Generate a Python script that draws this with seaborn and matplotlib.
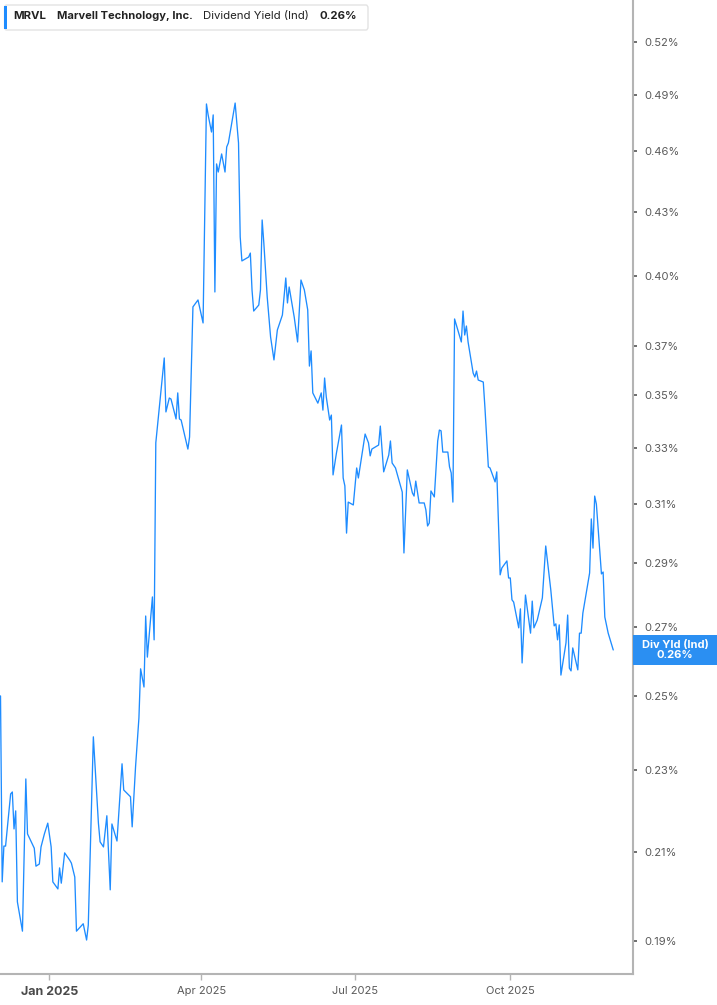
import numpy as np
import pandas as pd
import matplotlib
matplotlib.use("Agg")
import matplotlib.pyplot as plt
import seaborn as sns
from matplotlib.ticker import FixedLocator, NullLocator, FuncFormatter
from matplotlib.patches import Rectangle, FancyBboxPatch
from matplotlib.transforms import IdentityTransform

# ---------------- data ----------------
ticker = "MRVL"
company = "Marvell Technology, Inc."
metric = "Dividend Yield (Ind)"
badge_title = "Div Yld (Ind)"

base_date = "2025-01-01"
# days relative to base_date
days = [
    -29, -28, -27, -26, -23, -22, -21, -20, -19, -16, -14, -13, -9, -8, -6, -5, -3, -1,
    1, 2, 5, 6, 7, 9, 12, 13, 15, 16, 20, 22, 23, 26, 29, 30, 32, 34, 36, 37, 40, 43,
    44, 48, 49, 51, 53, 54, 56, 57, 58, 61, 62, 63, 68, 69, 71, 72, 75, 76, 77, 78,
    82, 83, 85, 88, 90, 91, 93, 94, 96, 97, 98, 99, 100, 102, 104, 105, 106, 110, 112, 113,
    114, 118, 119, 120, 121, 124, 125, 126, 127, 129, 131, 133, 135, 138, 140, 141, 142, 145, 147, 149,
    151, 152, 153, 154, 155, 156, 159, 161, 162, 163, 164, 166, 167, 168, 170, 173, 174, 175, 176, 177,
    180, 182, 183, 187, 189, 190, 191, 195, 196, 198, 201, 202, 203, 205, 209, 210, 212, 215, 216, 217,
    219, 222, 223, 224, 225, 226, 228, 230, 231, 232, 233, 236, 237, 238, 239, 240, 244, 245, 246, 247,
    248, 251, 252, 253, 254, 257, 258, 260, 261, 264, 265, 267, 268, 271, 272, 273, 274, 275, 278, 279,
    280, 282, 285, 286, 287, 289, 292, 294, 297, 299, 300, 301, 302, 303, 306, 307, 308, 309, 310, 313,
    314, 315, 316, 320, 321, 322, 323, 324, 327, 328, 329, 331, 334,
]
# dividend yield in percent
yields = [
    0.2500, 0.2030, 0.2113, 0.2113, 0.2240, 0.2245, 0.2154, 0.2198, 0.1985, 0.1921, 0.2278, 0.2142, 0.2108, 0.2066, 0.2071, 0.2111, 0.2142, 0.2168,
    0.2111, 0.2030, 0.2014, 0.2062, 0.2027, 0.2097, 0.2080, 0.2073, 0.2041, 0.1921, 0.1937, 0.1902, 0.1934, 0.2388, 0.2168, 0.2123, 0.2111, 0.2186, 0.2012, 0.2166, 0.2125, 0.2317,
    0.2250, 0.2233, 0.2159, 0.2309, 0.2439, 0.2577, 0.2525, 0.2734, 0.2611, 0.2793, 0.2662, 0.3319, 0.3650, 0.3436, 0.3490, 0.3486, 0.3409, 0.3510, 0.3409, 0.3405,
    0.3296, 0.3341, 0.3865, 0.3895, 0.3830, 0.3796, 0.4851, 0.4792, 0.4701, 0.4792, 0.3930, 0.4536, 0.4495, 0.4587, 0.4495, 0.4623, 0.4644, 0.4856, 0.4644, 0.4180,
    0.4069, 0.4087, 0.4105, 0.3939, 0.3847, 0.3873, 0.3939, 0.4260, 0.4151, 0.3908, 0.3737, 0.3642, 0.3766, 0.3830, 0.3992, 0.3882, 0.3952, 0.3821, 0.3716, 0.3983,
    0.3939, 0.3895, 0.3852, 0.3617, 0.3679, 0.3510, 0.3470, 0.3510, 0.3443, 0.3569, 0.3494, 0.3405, 0.3424, 0.3202, 0.3281, 0.3386, 0.3191, 0.3163, 0.3000, 0.3106,
    0.3096, 0.3227, 0.3191, 0.3352, 0.3319, 0.3271, 0.3296, 0.3311, 0.3382, 0.3213, 0.3274, 0.3326, 0.3245, 0.3227, 0.3141, 0.2934, 0.3220, 0.3138, 0.3127, 0.3180,
    0.3103, 0.3103, 0.3079, 0.3024, 0.3034, 0.3145, 0.3124, 0.3326, 0.3367, 0.3364, 0.3285, 0.3285, 0.3231, 0.3209, 0.3106, 0.3813, 0.3716, 0.3847, 0.3745, 0.3783,
    0.3716, 0.3589, 0.3573, 0.3597, 0.3561, 0.3553, 0.3451, 0.3231, 0.3227, 0.3177, 0.3213, 0.2863, 0.2885, 0.2908, 0.2853, 0.2853, 0.2784, 0.2777, 0.2698, 0.2756,
    0.2594, 0.2799, 0.2682, 0.2780, 0.2698, 0.2722, 0.2790, 0.2957, 0.2815, 0.2704, 0.2710, 0.2662, 0.2707, 0.2559, 0.2653, 0.2737, 0.2579, 0.2571, 0.2638, 0.2574,
    0.2682, 0.2682, 0.2743, 0.2869, 0.3048, 0.2950, 0.3127, 0.3099, 0.2866, 0.2872, 0.2731, 0.2682, 0.2632,
]
current_yield = "0.26%"

ytick_values = [0.19, 0.21, 0.23, 0.25, 0.27, 0.29, 0.31, 0.33, 0.35, 0.37, 0.40, 0.43, 0.46, 0.49, 0.52]
xtick_dates = ["2025-01-01", "2025-04-01", "2025-07-01", "2025-10-01"]
xtick_labels = ["Jan 2025", "Apr 2025", "Jul 2025", "Oct 2025"]

# ---------------- styling ----------------
sns.set_theme(style="white")
plt.rcParams["font.family"] = ["Inter", "DejaVu Sans"]

LINE = "#1E8CFF"
GREY_TXT = "#5a5a5a"
SPINE = "#b4b4b4"

W, H = 717, 1005
fig = plt.figure(figsize=(W / 100, H / 100), dpi=100)
fig.patch.set_facecolor("white")
ax = fig.add_axes([0, (H - 974) / H, 633 / W, 974 / H])

base = pd.Timestamp(base_date)
df = pd.DataFrame({
    "date": base + pd.to_timedelta(days, unit="D"),
    "yield": yields,
})

sns.lineplot(data=df, x="date", y="yield", ax=ax, color=LINE, linewidth=0.95)

ax.set_yscale("log")
ax.set_ylim(0.1831, 0.545)
ax.set_xlim(base + pd.Timedelta(days=-29.3), base + pd.Timedelta(days=345.7))

ax.yaxis.tick_right()
ax.yaxis.set_major_locator(FixedLocator(ytick_values))
ax.yaxis.set_minor_locator(NullLocator())
ax.yaxis.set_major_formatter(FuncFormatter(lambda v, p: f"{v:.2f}%"))
ax.tick_params(axis="y", which="major", right=True, left=False, length=3, width=1.2,
               color="#555555", labelsize=8, labelcolor=GREY_TXT, pad=5, direction="out")

ax.set_xticks(pd.to_datetime(xtick_dates))
ax.set_xticklabels(xtick_labels)
ax.xaxis.set_minor_locator(NullLocator())
ax.tick_params(axis="x", which="major", bottom=True, length=4, width=1, color=SPINE,
               labelsize=8, labelcolor=GREY_TXT, pad=4.5, direction="out")
for i, lab in enumerate(ax.get_xticklabels()):
    if i == 0:
        lab.set_fontweight("bold")
        lab.set_fontsize(9)
        lab.set_color("#4a4a4a")

ax.set_xlabel("")
ax.set_ylabel("")
for side in ["top", "left"]:
    ax.spines[side].set_visible(False)
for side in ["right", "bottom"]:
    ax.spines[side].set_color(SPINE)
    ax.spines[side].set_linewidth(1.5)
ax.grid(False)
ax.set_facecolor("white")

# ---------------- header legend ----------------
fig.add_artist(FancyBboxPatch((4.5 / W, 1 - 30 / H), 363.5 / W, 25 / H,
                              boxstyle="round,pad=0,rounding_size=0.003",
                              transform=fig.transFigure, fc="white", ec="#e3e3e3", lw=1))
fig.add_artist(Rectangle((4 / W, 1 - 29 / H), 3.3 / W, 23 / H,
                         transform=fig.transFigure, fc=LINE, ec="none"))
ty = 1 - 16 / H
fig.text(13 / W, ty, ticker, fontsize=8.2, fontweight="bold", color="#222222", va="center")
fig.text(57 / W, ty, company, fontsize=8.0, fontweight="bold", color="#222222", va="center")
fig.text(203 / W, ty, metric, fontsize=8.2, color="#222222", va="center")
fig.text(319 / W, ty, current_yield, fontsize=8.2, fontweight="bold", color="#222222", va="center")

# ---------------- last value badge ----------------
fig.canvas.draw()
last_date = df["date"].iloc[-1]
last_val = df["yield"].iloc[-1]
_, ypix = ax.transData.transform((matplotlib.dates.date2num(last_date), last_val))
x0 = ax.get_window_extent().x1
fig.add_artist(Rectangle((x0, ypix - 15), W - x0, 30, transform=IdentityTransform(),
                         fc="#2B8FF2", ec="none"))
fig.text((x0 + W) / 2 / W, (ypix + 5) / H, badge_title, fontsize=8, fontweight="bold",
         color="white", ha="center", va="center")
fig.text((x0 + W) / 2 / W, (ypix - 5.5) / H, current_yield, fontsize=8, fontweight="bold",
         color="white", ha="center", va="center")

fig.savefig("out.png", dpi=100, facecolor="white")
